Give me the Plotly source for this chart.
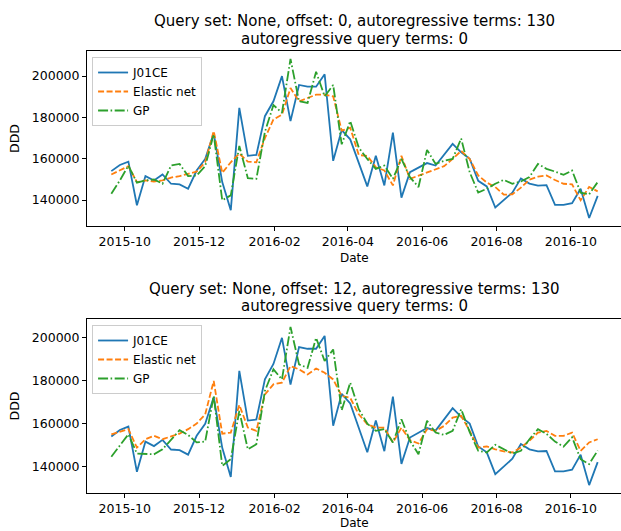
import pandas as pd
import plotly.graph_objects as go

dates = pd.date_range("2015-09-20", periods=58, freq="7D")

j01ce = [154000, 157000, 158600, 137500, 151600, 149500, 152400, 147900, 147600, 145500,
         154300, 159900, 172300, 148700, 135100, 184600, 161400, 161900, 180600, 187800,
         200000, 178200, 195700, 194900, 194900, 200900, 159000, 173900, 169400, 158300,
         146600, 161400, 147100, 172600, 141200, 153500, 155900, 157900, 156700, 161700,
         167200, 163100, 160000, 149300, 146600, 136400, 140200, 143600, 150500, 148000,
         147000, 147200, 137700, 137700, 138500, 145500, 131300, 142000]

enet_top = [152400, 154300, 156400, 148700, 149500, 149000, 149500, 150900, 151600, 152700,
            153800, 158300, 173400, 153200, 158300, 162500, 158600, 158300, 170000, 179000,
            181400, 194200, 187800, 189400, 191000, 191000, 190200, 173600, 175000, 161800,
            161400, 155900, 154300, 147100, 161400, 150300, 151900, 153200, 155100, 156400,
            159900, 163800, 159900, 151900, 148500, 146300, 142600, 142800, 146000, 149900,
            151300, 151900, 149700, 147900, 147600, 139900, 146400, 144200]

gp_top = [143100, 149500, 156700, 148400, 149500, 150000, 147900, 156700, 157500, 151600,
          151900, 156400, 171800, 139900, 142300, 166200, 150600, 150300, 173000, 186000,
          182200, 208300, 187800, 187000, 202100, 190200, 195700, 167000, 178200, 165400,
          159900, 155100, 156700, 150300, 159900, 151100, 146300, 164300, 157500, 159000,
          159900, 169800, 153500, 143600, 145500, 147900, 149800, 147900, 149000, 151100,
          157500, 155100, 153800, 152200, 154300, 143600, 142800, 148700]

enet_bot = [155000, 156300, 157400, 148800, 152700, 154300, 152700, 154000, 155300, 157400,
            160000, 164300, 179900, 155300, 155800, 168700, 158100, 156600, 173600, 178300,
            179100, 186800, 185300, 182900, 185700, 183700, 180600, 172900, 172000, 164300,
            159700, 158100, 158100, 151200, 158100, 152200, 150700, 157400, 156600, 158900,
            162800, 163600, 156600, 148800, 149300, 148000, 147000, 146500, 148800, 152000,
            155800, 156600, 154300, 154300, 155800, 147300, 151200, 152700]

gp_bot = [144500, 149600, 155000, 146000, 146000, 145700, 148000, 152700, 156900, 154700,
          151200, 151600, 172900, 140300, 143400, 165900, 148000, 150400, 175200, 185300,
          180600, 205100, 187600, 186000, 200000, 189200, 194600, 166200, 179100, 166700,
          160000, 156600, 157400, 151200, 162000, 152000, 145700, 161300, 155800, 154700,
          156600, 166700, 156000, 147300, 146500, 150100, 148000, 146000, 147300, 152700,
          157400, 155200, 151600, 149200, 153600, 143400, 141100, 147400]

title_lines = [["Query set: None, offset: 0, autoregressive terms: 130", "autoregressive query terms: 0"],
               ["Query set: None, offset: 12, autoregressive terms: 130", "autoregressive query terms: 0"]]
series_names = ["J01CE", "Elastic net", "GP"]
x_label = "Date"
y_label = "DDD"
tick_dates = ["2015-10-01", "2015-12-01", "2016-02-01", "2016-04-01", "2016-06-01", "2016-08-01", "2016-10-01"]
tick_text = ["2015-10", "2015-12", "2016-02", "2016-04", "2016-06", "2016-08", "2016-10"]
y_ticks = [140000, 160000, 180000, 200000]

colors = ["#1f77b4", "#ff7f0e", "#2ca02c"]
dashes = ["solid", "6px,2.5px", "10px,2.5px,1.6px,2.5px"]
FONT = "DejaVu Sans"
TICK = 12.5
LEG = 12
TITLE = 15

W, H = 621, 531
ML, MT, MB = 87, 51, 38
PH = H - MT - MB          # plot-area height in px
BOT = H - MB              # pixel row of the bottom axis line

fig = go.Figure()
panels = [(j01ce, enet_top, gp_top), (j01ce, enet_bot, gp_bot)]
for p, vals in enumerate(panels):
    sfx = "" if p == 0 else "2"
    for k, v in enumerate(vals):
        fig.add_trace(go.Scatter(
            x=dates, y=v, mode="lines", name=series_names[k],
            line=dict(color=colors[k], width=1.8, dash=dashes[k]),
            xaxis="x" + sfx, yaxis="y" + sfx,
            legend="legend" + sfx, showlegend=True))

span = dates[-1] - dates[0]
x0 = dates[0] - 0.05 * span
x1 = x0 + 1.1 * span * ((W - ML) / (W - ML + 1))

def yr(series_list):
    lo = min(min(s) for s in series_list)
    hi = max(max(s) for s in series_list)
    pad = 0.05 * (hi - lo)
    return [lo - pad, hi + pad]

def py(px):
    """pixel row from top -> paper y"""
    return (BOT - px) / PH

xcommon = dict(range=[x0, x1], tickvals=tick_dates, ticktext=tick_text,
               ticks="outside", ticklen=4, tickwidth=1, tickcolor="black",
               showline=True, mirror=True, linecolor="black", linewidth=1,
               showgrid=False, zeroline=False,
               tickfont=dict(family=FONT, size=TICK, color="black"))

ycommon = dict(tickvals=y_ticks, tickformat="d",
               ticks="outside", ticklen=4, tickwidth=1, tickcolor="black",
               showline=True, mirror=False, linecolor="black", linewidth=1,
               showgrid=False, zeroline=False,
               tickfont=dict(family=FONT, size=TICK, color="black"),
               title=dict(text=y_label, font=dict(family=FONT, size=TICK, color="black"), standoff=9))

legcommon = dict(font=dict(family=FONT, size=LEG, color="black"),
                 bgcolor="rgba(255,255,255,0.8)", bordercolor="#cccccc", borderwidth=1,
                 xanchor="left", yanchor="top", x=0.0095, tracegroupgap=0,
                 itemwidth=30)

title_y = [(21, 38.5), (289, 306)]
xlabel_y = [258, 522.5]
annotations = []
for p in range(2):
    for ln in range(2):
        annotations.append(dict(
            text=title_lines[p][ln], x=0.5, y=py(title_y[p][ln]), xref="paper", yref="paper",
            xanchor="center", yanchor="middle", showarrow=False,
            font=dict(family=FONT, size=TITLE, color="black")))
    annotations.append(dict(
        text=x_label, x=0.5, y=py(xlabel_y[p]), xref="paper", yref="paper",
        xanchor="center", yanchor="middle", showarrow=False, borderpad=0,
        font=dict(family=FONT, size=12, color="black")))

fig.update_layout(
    width=W, height=H,
    margin=dict(l=ML, r=0, t=MT, b=MB),
    paper_bgcolor="white", plot_bgcolor="white",
    font=dict(family=FONT, color="black"),
    xaxis=dict(domain=[0, 1], anchor="y", **xcommon),
    yaxis=dict(domain=[py(226), 1], anchor="x", range=yr(panels[0]), **ycommon),
    xaxis2=dict(domain=[0, 1], anchor="y2", **xcommon),
    yaxis2=dict(domain=[0, py(319)], anchor="x2", range=yr(panels[1]), **ycommon),
    legend=dict(y=py(57), **legcommon),
    legend2=dict(y=py(325), **legcommon),
    annotations=annotations,
)

# remove the default 8px page margin so the 621x531 figure fills the window exactly
fig.write_html("out.html",
               config={"displayModeBar": False},
               post_script="document.body.style.margin='0';document.body.style.overflow='hidden';")
